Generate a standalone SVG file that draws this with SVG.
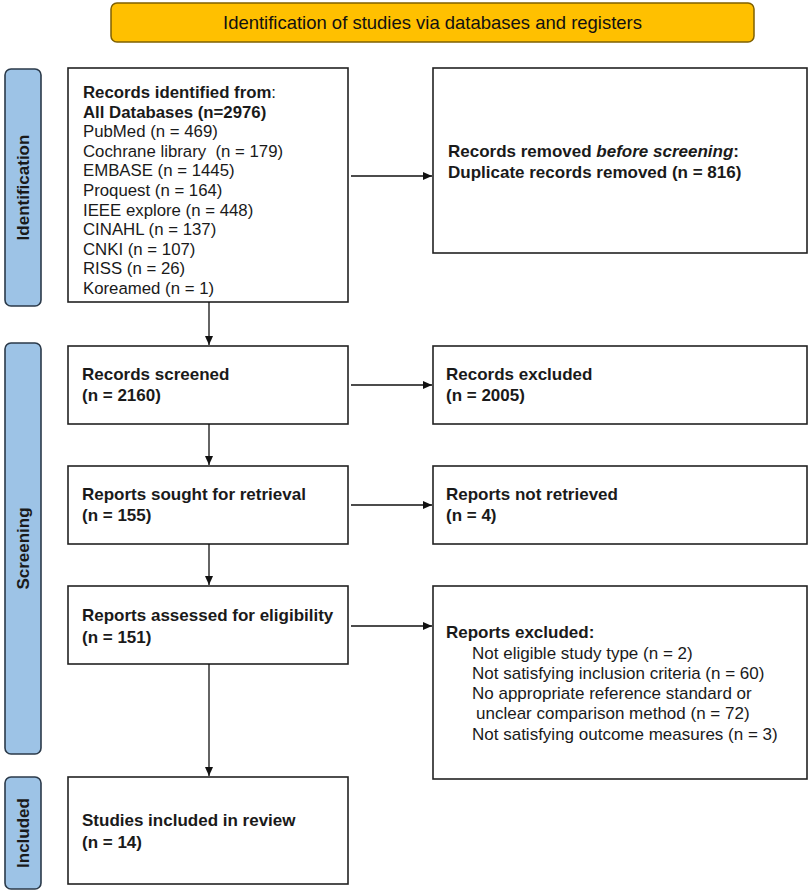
<svg xmlns="http://www.w3.org/2000/svg" width="809" height="892" viewBox="0 0 809 892">
<defs>
<marker id="ah" markerWidth="10" markerHeight="10" refX="9" refY="5" orient="auto" markerUnits="userSpaceOnUse">
<path d="M0,1 L9,5 L0,9 Z" fill="#111"/>
</marker>
<style>
.box{fill:#fff;stroke:#222;stroke-width:1.6}
.side{fill:#9DC3E6;stroke:#2b3a4a;stroke-width:1.6}
.t{font-family:"Liberation Sans",Arial,sans-serif;font-size:17px;fill:#1a1a1a}
.s{font-size:16.8px}
.b{font-weight:bold}
.side-t{font-family:"Liberation Sans",Arial,sans-serif;font-size:17px;font-weight:bold;fill:#1a1a1a;text-anchor:middle}
.c{stroke:#111;stroke-width:1.3;fill:none;marker-end:url(#ah)}
</style>
</defs>
<rect width="809" height="892" fill="#fff"/>

<g id="title">
<rect x="111" y="3" width="643" height="39" rx="6" fill="#FFC000" stroke="#7f6000" stroke-width="1.5"/>
<text x="432.5" y="29" class="t" style="font-size:19px;fill:#111" text-anchor="middle" textLength="419" lengthAdjust="spacingAndGlyphs">Identification of studies via databases and registers</text>
</g>

<g id="side-identification">
<rect x="5" y="69" width="36" height="237" rx="6" class="side"/>
<text class="side-t" transform="translate(29,187.5) rotate(-90)">Identification</text>
</g>
<g id="side-screening">
<rect x="5" y="343" width="36" height="411" rx="6" class="side"/>
<text class="side-t" transform="translate(29,548.5) rotate(-90)">Screening</text>
</g>
<g id="side-included">
<rect x="5" y="777" width="36" height="112" rx="6" class="side"/>
<text class="side-t" transform="translate(29,833) rotate(-90)">Included</text>
</g>

<g id="records-identified">
<rect x="68" y="68" width="280" height="234" class="box"/>
<text class="t s" x="83" y="98"><tspan class="b">Records identified from</tspan>:</text>
<text class="t s b" x="83" y="117.6">All Databases (n=2976)</text>
<text class="t s" x="83" y="137.2">PubMed (n = 469)</text>
<text class="t s" x="83" y="156.8">Cochrane library&#160; (n = 179)</text>
<text class="t s" x="83" y="176.4">EMBASE (n = 1445)</text>
<text class="t s" x="83" y="196">Proquest (n = 164)</text>
<text class="t s" x="83" y="215.6">IEEE explore (n = 448)</text>
<text class="t s" x="83" y="235.2">CINAHL (n = 137)</text>
<text class="t s" x="83" y="254.8">CNKI (n = 107)</text>
<text class="t s" x="83" y="274.4">RISS (n = 26)</text>
<text class="t s" x="83" y="294">Koreamed (n = 1)</text>
</g>

<g id="records-removed">
<rect x="433" y="68" width="374" height="185" class="box"/>
<text class="t b" x="448" y="157">Records removed <tspan font-style="italic">before screening</tspan>:</text>
<text class="t b" x="448" y="178">Duplicate records removed (n = 816)</text>
</g>

<g id="records-screened">
<rect x="68" y="346" width="280" height="78" class="box"/>
<text class="t b" x="82" y="380">Records screened</text>
<text class="t b" x="82" y="401">(n = 2160)</text>
</g>
<g id="records-excluded">
<rect x="433" y="346" width="374" height="78" class="box"/>
<text class="t b" x="446" y="380">Records excluded</text>
<text class="t b" x="446" y="401">(n = 2005)</text>
</g>

<g id="reports-sought">
<rect x="68" y="466" width="280" height="78" class="box"/>
<text class="t b" x="82" y="500">Reports sought for retrieval</text>
<text class="t b" x="82" y="521">(n = 155)</text>
</g>
<g id="reports-not-retrieved">
<rect x="433" y="466" width="374" height="78" class="box"/>
<text class="t b" x="446" y="500">Reports not retrieved</text>
<text class="t b" x="446" y="521">(n = 4)</text>
</g>

<g id="reports-assessed">
<rect x="68" y="586" width="280" height="78" class="box"/>
<text class="t b" x="82" y="621">Reports assessed for eligibility</text>
<text class="t b" x="82" y="643">(n = 151)</text>
</g>
<g id="reports-excluded">
<rect x="433" y="586" width="374" height="193" class="box"/>
<text class="t b" x="446" y="638">Reports excluded:</text>
<text class="t" x="472" y="659">Not eligible study type (n = 2)</text>
<text class="t" x="472" y="679">Not satisfying inclusion criteria (n = 60)</text>
<text class="t" x="472" y="699">No appropriate reference standard or</text>
<text class="t" x="476" y="719">unclear comparison method (n = 72)</text>
<text class="t" x="472" y="740">Not satisfying outcome measures (n = 3)</text>
</g>

<g id="studies-included">
<rect x="68" y="777" width="280" height="107" class="box"/>
<text class="t b" x="82" y="826">Studies included in review</text>
<text class="t b" x="82" y="848">(n = 14)</text>
</g>

<g id="connectors">
<line x1="351" y1="176" x2="432" y2="176" class="c"/>
<line x1="209" y1="302" x2="209" y2="345" class="c"/>
<line x1="351" y1="385" x2="432" y2="385" class="c"/>
<line x1="209" y1="424" x2="209" y2="465" class="c"/>
<line x1="351" y1="505" x2="432" y2="505" class="c"/>
<line x1="209" y1="544" x2="209" y2="585" class="c"/>
<line x1="351" y1="626" x2="432" y2="626" class="c"/>
<line x1="209" y1="664" x2="209" y2="776" class="c"/>
</g>
</svg>
